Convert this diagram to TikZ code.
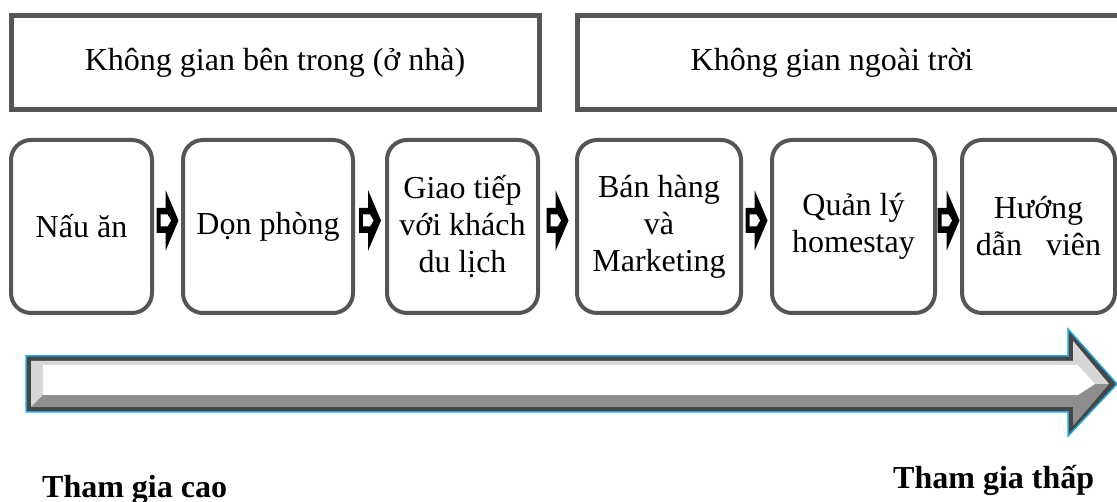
\documentclass[tikz,border=0pt]{standalone}
\usepackage{fontspec}
\setmainfont{Liberation Serif}
\usepackage{tikz}
\usetikzlibrary{calc,positioning}

\definecolor{boxgray}{HTML}{555555}
\definecolor{edgecyan}{HTML}{1FA8E0}
\definecolor{beveldark}{HTML}{464646}
\definecolor{bevelmid}{HTML}{8E8E8E}
\definecolor{bevellight}{HTML}{D6D6D6}

\begin{document}
\begin{tikzpicture}
		[   x=1pt,y=-1pt,
		    font=\fontsize{32}{37}\selectfont,
		    tnode/.style={draw=boxgray,line width=5pt,fill=white,minimum height=94pt,inner sep=0pt},
		    bnode/.style={draw=boxgray,line width=4pt,rounded corners=20pt,minimum height=173pt,align=center,inner sep=2pt},
		]
		\tikzset{flow arrow/.pic={
				\fill[black] (-11,-12.5) -- (-2,-12.5) -- (-2,-30.5) -- (11,0) -- (-2,30.5) -- (-2,12.5) -- (-11,12.5) -- cycle;
				\fill[white] (-7,-6) -- (0,-6) -- (3.5,0) -- (0,6) -- (-7,6) -- cycle;
			}}
		\useasboundingbox (0,0) rectangle (1117,502);
		\clip (0,0) rectangle (1117,502);
		
		% top boxes
		\node[tnode,minimum width=528pt] (t-1) at (275,63) {Không gian bên trong (ở nhà)};
		\node[tnode,minimum width=553pt] (t-2) at (853.5,63) {};
		\node (t-2-text) at (832,63) {Không gian ngoài trời};
		
		% steps
		\node[bnode,minimum width=141pt] (b-1) at (81.5,226.5) {Nấu ăn};
		\node[bnode,minimum width=170pt] (b-2) at (268,226.5) {Dọn phòng};
		\node[bnode,minimum width=151pt] (b-3) at (462.5,226.5) {Giao tiếp\\với khách\\du lịch};
		\node[bnode,minimum width=164pt] (b-4) at (659,226.5) {Bán hàng\\và\\Marketing};
		\node[bnode,minimum width=163pt] (b-5) at (853.5,226.5) {Quản lý\\homestay};
		\node[bnode,minimum width=153pt] (b-6) at (1038.5,226.5) {Hướng\\dẫn\ \ \ viên};
		
		\foreach \x/\y in {1/2,2/3,3/4,4/5,5/6}
		{
			\pic at ($(b-\x.east)!0.5!(b-\y.west)+(0,-6)$) {flow arrow};
		}
		
		% big arrow
		\coordinate (a-tail) at (26,384);
		\coordinate (a-tip) at (1117,384);
		\filldraw[fill=beveldark,draw=edgecyan,line width=1.5pt]
			(a-tail |- 0,356) -- (1068,356) -- (1068,329) -- (a-tip) -- (1068,436) -- (1068,412) -- (a-tail |- 0,412) -- cycle;
		\fill[bevelmid] (31,361) -- (1073,361) -- (1073,341) -- (1109,384) -- (1073,426) -- (1073,407) -- (31,407) -- cycle;
		\fill[bevellight] (31,361) -- (1073,361) -- (1073,341) -- (1109,384) -- (1095,384) -- (1078,365) -- (43,365) -- (43,395) -- (31,407) -- cycle;
		\fill[white] (43,365) -- (1078,365) -- (1095,384) -- (1078,395) -- (43,395) -- cycle;
		
		% labels
		\node[anchor=base west,inner sep=0pt,font=\fontsize{32}{37}\selectfont\bfseries] (high) at (42,497) {Tham gia cao};
		\node[anchor=base west,inner sep=0pt,font=\fontsize{32}{37}\selectfont\bfseries] (low) at (893,489) {Tham gia thấp};
		
\end{tikzpicture}
\end{document}
